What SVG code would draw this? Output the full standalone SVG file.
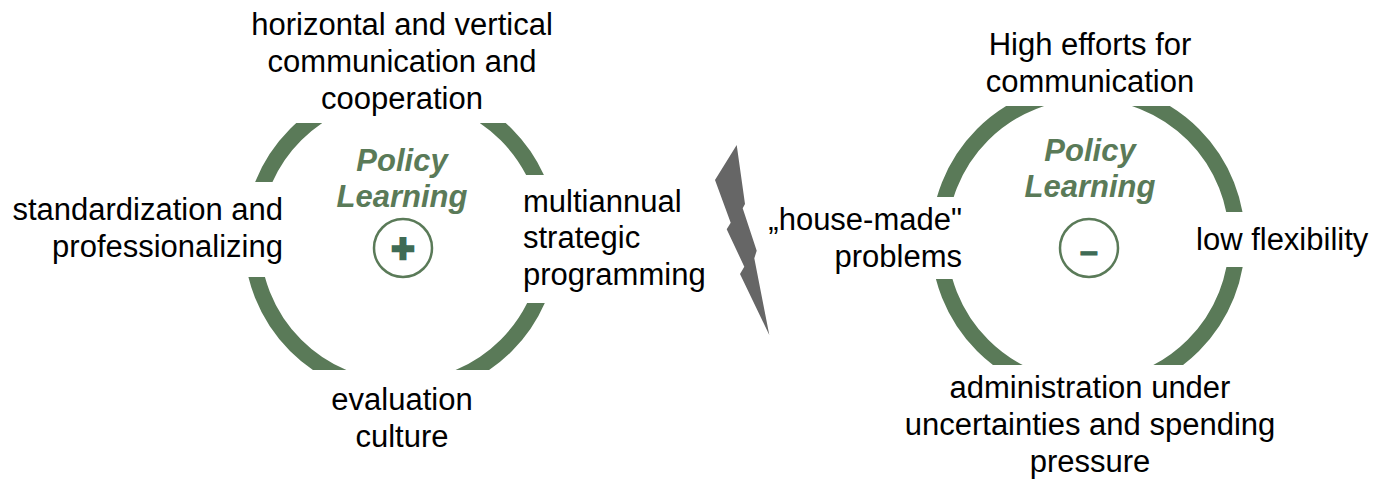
<svg xmlns="http://www.w3.org/2000/svg" width="1385" height="488" viewBox="0 0 1385 488">
<style>
text{font-family:"Liberation Sans",Arial,sans-serif;}
.lbl{font-size:31px;fill:#000;}
.c{text-anchor:middle;}
.r{text-anchor:end;}
.pl{font-size:31px;font-weight:bold;font-style:italic;fill:#5a7a58;text-anchor:middle;}
.ring{fill:none;stroke:#5a7a58;stroke-width:16;}
.badge{fill:none;stroke:#5a7a58;stroke-width:2.5;}
.sym{font-weight:bold;fill:#3f6b55;text-anchor:middle;}
</style>
<defs>
<clipPath id="clipL" clipPathUnits="userSpaceOnUse">
<rect x="200" y="123" width="201" height="59"/>
<rect x="200" y="277" width="201" height="93"/>
<rect x="401" y="123" width="200" height="52"/>
<rect x="401" y="303" width="200" height="67"/>
</clipPath>
<clipPath id="clipR" clipPathUnits="userSpaceOnUse">
<rect x="900" y="106" width="188" height="91"/>
<rect x="900" y="279" width="188" height="86"/>
<rect x="1088" y="106" width="200" height="106"/>
<rect x="1088" y="267" width="200" height="98"/>
</clipPath>
</defs>
<g id="left-cycle">
<circle class="ring" cx="401" cy="240" r="149" clip-path="url(#clipL)"/>
<text class="pl" x="402" y="171">Policy</text>
<text class="pl" x="402" y="207">Learning</text>
<circle class="badge" cx="403" cy="248" r="29"/>
<text class="sym" x="403" y="262" font-size="40" stroke="#3f6b55" stroke-width="2.5">+</text>
</g>
<g id="label-horizontal">
<text class="lbl c" x="402" y="35">horizontal and vertical</text>
<text class="lbl c" x="402" y="72">communication and</text>
<text class="lbl c" x="402" y="109">cooperation</text>
</g>
<g id="label-standardization">
<text class="lbl r" x="283" y="220">standardization and</text>
<text class="lbl r" x="283" y="257">professionalizing</text>
</g>
<g id="label-multiannual">
<text class="lbl" x="523" y="212">multiannual</text>
<text class="lbl" x="523" y="248">strategic</text>
<text class="lbl" x="523" y="285">programming</text>
</g>
<g id="label-evaluation">
<text class="lbl c" x="402" y="410">evaluation</text>
<text class="lbl c" x="402" y="447">culture</text>
</g>
<g id="bolt">
<polygon fill="#666666" points="736.7,145 745,204 742.7,208.3 756.7,250.7 754.3,258.3 769.3,335 740,274 744.3,266.7 726.7,229.3 730.7,222.7 715,180"/>
</g>
<g id="right-cycle">
<circle class="ring" cx="1088" cy="240" r="149" clip-path="url(#clipR)"/>
<text class="pl" x="1090" y="161">Policy</text>
<text class="pl" x="1090" y="197">Learning</text>
<circle class="badge" cx="1089" cy="248" r="29"/>
<text class="sym" x="1089" y="262" font-size="32" stroke="#3f6b55" stroke-width="1.2">–</text>
</g>
<g id="label-high-efforts">
<text class="lbl c" x="1090" y="55">High efforts for</text>
<text class="lbl c" x="1090" y="92">communication</text>
</g>
<g id="label-house-made">
<text class="lbl r" x="962" y="230">„house-made"</text>
<text class="lbl r" x="962" y="267">problems</text>
</g>
<g id="label-flexibility">
<text class="lbl" x="1196" y="250">low flexibility</text>
</g>
<g id="label-administration">
<text class="lbl c" x="1090" y="398">administration under</text>
<text class="lbl c" x="1090" y="435">uncertainties and spending</text>
<text class="lbl c" x="1090" y="472">pressure</text>
</g>
</svg>
